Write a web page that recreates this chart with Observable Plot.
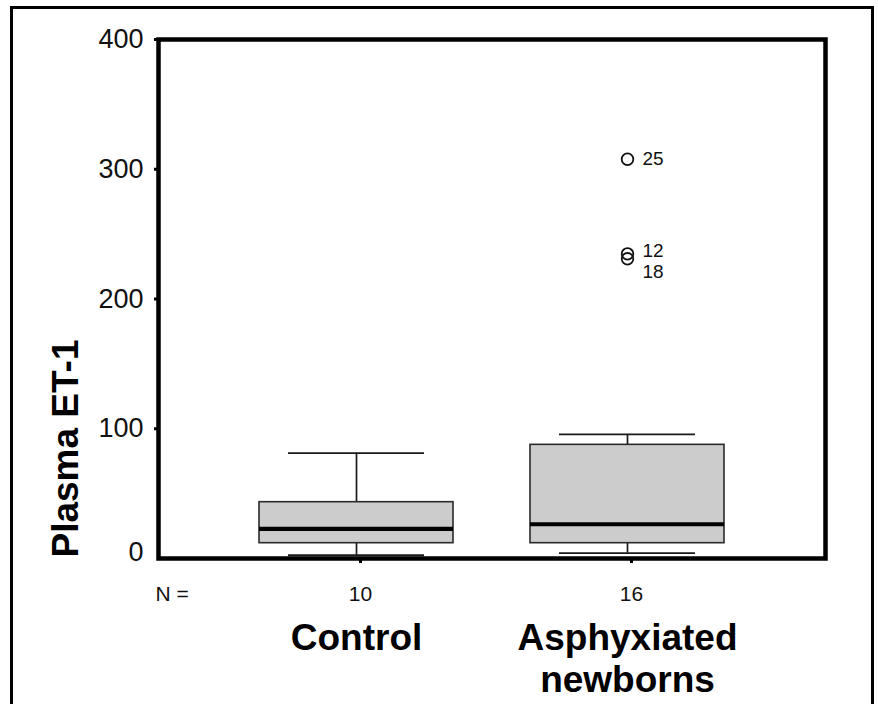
<!DOCTYPE html>
<html>
<head>
<meta charset="utf-8">
<script src="https://cdn.jsdelivr.net/npm/d3@7"></script>
<script src="https://cdn.jsdelivr.net/npm/@observablehq/plot@0.6"></script>
<style>
  html, body { margin: 0; padding: 0; background: #fff; overflow: hidden; }
  #wrap { position: relative; width: 878px; height: 704px; }
  #border { position: absolute; left: 10px; top: 6px; width: 864px; height: 760px; box-sizing: border-box; border: 3px solid #000; }
  #chart { position: absolute; left: 0; top: 0; }
</style>
</head>
<body>
<div id="wrap"><div id="border"></div><div id="chart"></div></div>
<script>
// ---- data ----
const groups = ["Control", "Asphyxiated newborns"];
const groupLabels = ["Control", "Asphyxiated\nnewborns"];
const counts = [10, 16];
const whiskerLow = [2.5, 4.1];
const q1 = [11.8, 11.8];
const median = [22.9, 26.4];
const q3 = [43.4, 87.6];
const whiskerHigh = [81.2, 95.6];

const outlierGroup = ["Asphyxiated newborns", "Asphyxiated newborns", "Asphyxiated newborns"];
const outlierValue = [307.7, 234.8, 231.0];
const outlierLabel = ["25", "12", "18"];

const yTicks = [100, 200, 300, 400];
const yZeroTick = [0];
const yLabel = "Plasma ET-1";
const nLabel = "N =";

// ---- tables built from the arrays ----
const boxes = groups.map((g, i) => ({
  group: g, lo: whiskerLow[i], q1: q1[i], med: median[i], q3: q3[i], hi: whiskerHigh[i]
}));
const outliers = outlierValue.map((v, i) => ({group: outlierGroup[i], value: v, label: outlierLabel[i]}));
const labelNudge = {"25": 0, "12": -3, "18": 13};

const font = "'Liberation Sans', Arial, Helvetica, sans-serif";
const ink = "#1a1a1a";

const chart = Plot.plot({
  width: 878,
  height: 704,
  marginLeft: 158,
  marginRight: 53,
  marginTop: 39,
  marginBottom: 146,
  style: {fontFamily: font, color: "#000", background: "transparent", overflow: "visible"},
  x: {type: "band", domain: groups, paddingInner: 0.283, paddingOuter: 0.3695},
  y: {domain: [0, 400], nice: false},
  marks: [
    // whiskers
    Plot.ruleX(boxes, {x: "group", y1: "lo", y2: "q1", stroke: ink, strokeWidth: 1.7}),
    Plot.ruleX(boxes, {x: "group", y1: "q3", y2: "hi", stroke: ink, strokeWidth: 1.7}),
    Plot.tickY(boxes, {x: "group", y: "lo", stroke: ink, strokeWidth: 1.8, inset: 29}),
    Plot.tickY(boxes, {x: "group", y: "hi", stroke: ink, strokeWidth: 1.8, inset: 29}),
    // boxes
    Plot.barY(boxes, {x: "group", y1: "q1", y2: "q3", fill: "#cccccc", stroke: "#2a2a2a", strokeWidth: 1.6}),
    Plot.tickY(boxes, {x: "group", y: "med", stroke: "#000", strokeWidth: 4.2}),
    // outliers
    Plot.dot(outliers, {x: "group", y: "value", r: 5.8, stroke: "#111", strokeWidth: 1.8, fill: "none"}),
    ...outlierLabel.map(lab => Plot.text(outliers.filter(d => d.label === lab), {
      x: "group", y: "value", text: "label", textAnchor: "start", dx: 15, dy: labelNudge[lab],
      fontSize: 19, fill: "#111"
    })),
    // y axis
    Plot.axisY({ticks: yTicks, tickSize: 4, tickPadding: 11, fontSize: 27, strokeWidth: 3, label: null, fill: "#111"}),
    Plot.axisY({ticks: yZeroTick, tickSize: 0, tickPadding: 15, fontSize: 27, dy: -6, label: null, fill: "#111"}),
    Plot.text([yLabel], {
      frameAnchor: "bottom-left", rotate: -90, textAnchor: "start", lineAnchor: "middle",
      dx: -92, dy: -1, fontSize: 37, fontWeight: "bold", fill: "#000"
    }),
    // x axis: counts and group names
    Plot.axisX({
      tickSize: 5, strokeWidth: 3, tickPadding: 23, fontSize: 21, dx: 4, label: null, fill: "#111",
      tickFormat: d => String(counts[groups.indexOf(d)])
    }),
    Plot.axisX({
      tickSize: 0, tickPadding: 62, fontSize: 37, fontWeight: "bold", lineHeight: 1.13, label: null, fill: "#000",
      tickFormat: d => groupLabels[groups.indexOf(d)]
    }),
    Plot.text([nLabel], {
      frameAnchor: "bottom-left", textAnchor: "start", lineAnchor: "top", dx: -3, dy: 28, fontSize: 21, fill: "#111"
    }),
    // plot frame
    Plot.frame({stroke: "#000", strokeWidth: 4.5})
  ]
});
document.getElementById("chart").appendChild(chart);
</script>
</body>
</html>
